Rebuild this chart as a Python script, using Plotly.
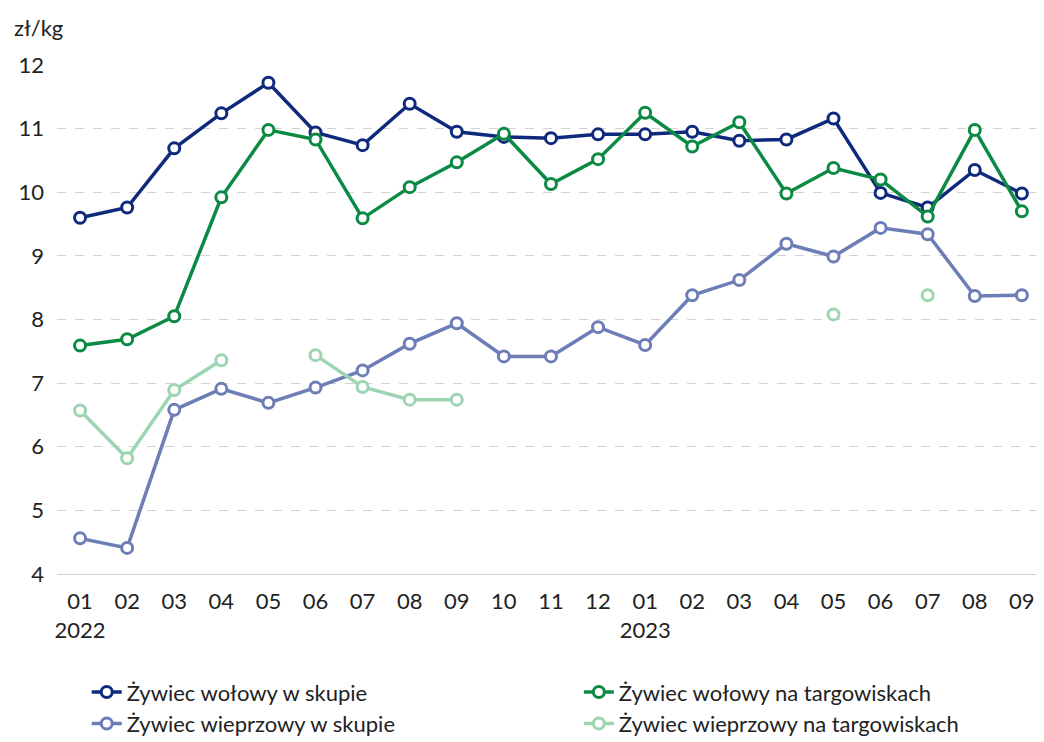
import plotly.graph_objects as go

periods = ["2022-01","2022-02","2022-03","2022-04","2022-05","2022-06","2022-07","2022-08","2022-09",
           "2022-10","2022-11","2022-12","2023-01","2023-02","2023-03","2023-04","2023-05","2023-06",
           "2023-07","2023-08","2023-09"]
tick_labels = ["01<br>2022","02","03","04","05","06","07","08","09","10","11","12",
               "01<br>2023","02","03","04","05","06","07","08","09"]

wolowy_skup = [9.60, 9.76, 10.69, 11.24, 11.72, 10.94, 10.74, 11.39, 10.95, 10.87, 10.85, 10.91,
               10.91, 10.95, 10.81, 10.83, 11.16, 9.99, 9.76, 10.35, 9.98]
wolowy_targ = [7.59, 7.69, 8.05, 9.92, 10.98, 10.83, 9.59, 10.08, 10.47, 10.92, 10.13, 10.52,
               11.25, 10.72, 11.10, 9.98, 10.38, 10.20, 9.62, 10.98, 9.70]
wieprz_skup = [4.56, 4.41, 6.58, 6.91, 6.69, 6.93, 7.20, 7.62, 7.94, 7.42, 7.42, 7.88,
               7.60, 8.38, 8.62, 9.19, 8.99, 9.44, 9.34, 8.37, 8.38]
wieprz_targ = [6.57, 5.82, 6.89, 7.36, None, 7.44, 6.94, 6.74, 6.74, None, None, None,
               None, None, None, None, 8.08, None, 8.38, None, None]

series = [
    ("Żywiec wołowy w skupie", wolowy_skup, "#0f2a7c", "legend"),
    ("Żywiec wołowy na targowiskach", wolowy_targ, "#0b8a43", "legend2"),
    ("Żywiec wieprzowy w skupie", wieprz_skup, "#6d7db6", "legend"),
    ("Żywiec wieprzowy na targowiskach", wieprz_targ, "#9dd5b3", "legend2"),
]

FONT = "Lato, Roboto, sans-serif"
TXT = "#222222"

fig = go.Figure()
for name, vals, col, leg in series:
    fig.add_trace(go.Scatter(
        x=periods, y=vals, name=name, mode="lines+markers", legend=leg,
        line=dict(color=col, width=3.5),
        marker=dict(symbol="circle", size=11, color="white", line=dict(color=col, width=3)),
        connectgaps=False,
    ))

leg_common = dict(orientation="v", xref="container", yref="container",
                  xanchor="left", yanchor="top", tracegroupgap=0,
                  bgcolor="rgba(0,0,0,0)", borderwidth=0,
                  font=dict(family=FONT, size=22, color=TXT))

fig.update_layout(
    width=1036, height=734,
    margin=dict(l=49, r=0, t=57, b=168, autoexpand=False),
    paper_bgcolor="white", plot_bgcolor="white",
    font=dict(family=FONT, size=22, color=TXT),
    showlegend=True,
    legend=dict(x=0.076, y=0.0965, **leg_common),
    legend2=dict(x=0.551, y=0.0965, **leg_common),
    annotations=[dict(text="zł/kg", xref="paper", yref="paper", x=-0.0456, y=1.0727,
                      xanchor="left", yanchor="middle", showarrow=False,
                      font=dict(family=FONT, size=22, color=TXT))],
)
fig.update_xaxes(type="category", range=[-0.49, 20.47], tickmode="array",
                 tickvals=periods, ticktext=tick_labels, showgrid=False, automargin=False,
                 showline=True, linecolor="#d0d0d0", linewidth=1, ticks="", tickangle=0,
                 ticklabelstandoff=8, zeroline=False)
fig.update_yaxes(range=[4, 12], dtick=1, showgrid=True, gridcolor="#d3d3d3", automargin=False,
                 griddash="dash", gridwidth=1, zeroline=False, ticks="",
                 ticklabelstandoff=12)

fig.write_html("out.html")
